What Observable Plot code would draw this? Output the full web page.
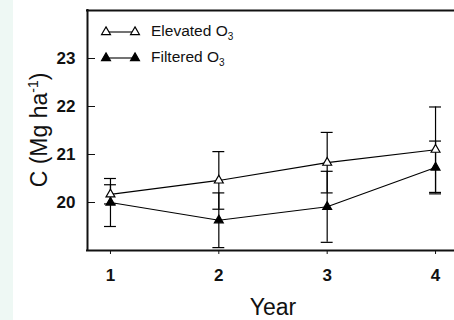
<!DOCTYPE html>
<html><head><meta charset="utf-8">
<script src="https://cdn.jsdelivr.net/npm/d3@7"></script>
<script src="https://cdn.jsdelivr.net/npm/@observablehq/plot@0.6"></script>
<style>
html,body{margin:0;padding:0;}
body{width:454px;height:320px;overflow:hidden;background:linear-gradient(to right,#eef8f4 0,#eef8f4 13px,#fff 13px);font-family:"Liberation Sans",Arial,sans-serif;}
#chart svg{background:transparent !important;display:block;}
</style></head><body><div id="chart"></div>
<script>
const years = [1, 2, 3, 4];
const elevated = [20.17, 20.46, 20.83, 21.10];
const elevatedErr = [0.20, 0.60, 0.63, 0.89];
const filtered = [20.00, 19.63, 19.91, 20.73];
const filteredErr = [0.50, 0.57, 0.74, 0.55];
const yTicks = [20, 21, 22, 23];
const seriesNames = ["Elevated O", "Filtered O"];

const xDomain = [0.788, 4.175];
const yDomain = [19, 24];

const elevRows = years.map((y, i) => ({year: y, c: elevated[i], err: elevatedErr[i]}));
const filtRows = years.map((y, i) => ({year: y, c: filtered[i], err: filteredErr[i]}));
const allRows = [...filtRows, ...elevRows];
const capHalf = 0.055;

const plot = Plot.plot({
  width: 454, height: 320,
  marginLeft: 87, marginRight: 0, marginTop: 10, marginBottom: 70,
  style: {fontFamily: "Liberation Sans, Arial, sans-serif", background: "transparent", color: "#111"},
  x: {domain: xDomain},
  y: {domain: yDomain},
  marks: [
    Plot.axisX({ticks: years, tickSize: 4, tickPadding: 14, fontSize: 17, fontWeight: "bold", label: null, tickFormat: d3.format("d")}),
    Plot.axisY({ticks: yTicks, tickSize: 0, tickPadding: 12, fontSize: 17, fontWeight: "bold", label: null, tickFormat: d3.format("d")}),
    Plot.axisY({ticks: yTicks, tickSize: 8, dx: 8, tickFormat: () => "", label: null}),
    Plot.ruleX(allRows, {x: "year", y1: d => d.c - d.err, y2: d => d.c + d.err, stroke: "black", strokeWidth: 1.2}),
    Plot.ruleY(allRows, {y: d => d.c + d.err, x1: d => d.year - capHalf, x2: d => d.year + capHalf, stroke: "black", strokeWidth: 1.2}),
    Plot.ruleY(allRows, {y: d => d.c - d.err, x1: d => d.year - capHalf, x2: d => d.year + capHalf, stroke: "black", strokeWidth: 1.2}),
    Plot.line(filtRows, {x: "year", y: "c", stroke: "black", strokeWidth: 1.1}),
    Plot.line(elevRows, {x: "year", y: "c", stroke: "black", strokeWidth: 1.1}),
    Plot.dot(filtRows, {x: "year", y: "c", symbol: "triangle", r: 3.3, fill: "black", stroke: "black", strokeWidth: 1.2}),
    Plot.dot(elevRows, {x: "year", y: "c", symbol: "triangle", r: 3.3, fill: "white", stroke: "black", strokeWidth: 1.2}),
    Plot.ruleY([yDomain[0], yDomain[1]], {stroke: "#111", strokeWidth: 2, strokeLinecap: "square"}),
    Plot.ruleX([xDomain[0]], {stroke: "#111", strokeWidth: 2, strokeLinecap: "square"})
  ]
});

const svg = d3.select(plot);
// y label
const yl = svg.append("text")
  .attr("transform", "translate(47,130) rotate(-90)")
  .attr("text-anchor", "middle")
  .style("font-size", "23px")
  .attr("fill", "#111")
  .attr("font-family", "Liberation Sans, Arial, sans-serif");
yl.append("tspan").text("C (Mg ha");
yl.append("tspan").style("font-size", "14px").attr("dy", -9).text("-1");
yl.append("tspan").attr("dy", 9).text(")");
// x label
svg.append("text")
  .attr("x", 273).attr("y", 315)
  .attr("text-anchor", "middle")
  .style("font-size", "23px")
  .attr("fill", "#111")
  .attr("font-family", "Liberation Sans, Arial, sans-serif")
  .text("Year");
// legend
const legendRows = [
  {name: seriesNames[0], fill: "white", y: 32},
  {name: seriesNames[1], fill: "black", y: 58}
];
const tri = d3.symbol(d3.symbolTriangle, 3.3 * 3.3 * Math.PI)();
const lg = svg.append("g").attr("text-anchor", "start");
legendRows.forEach(r => {
  lg.append("line").attr("x1", 106).attr("x2", 135).attr("y1", r.y).attr("y2", r.y).attr("stroke", "black").attr("stroke-width", 1.1);
  [106, 135].forEach(x => lg.append("path").attr("d", tri).attr("transform", `translate(${x},${r.y})`).attr("fill", r.fill).attr("stroke", "black").attr("stroke-width", 1.2));
  const t = lg.append("text").attr("x", 151).attr("y", r.y + 3.5).style("font-size", "15.5px").attr("fill", "#111")
    .attr("text-anchor", "start")
    .attr("font-family", "Liberation Sans, Arial, sans-serif");
  t.append("tspan").text(r.name);
  t.append("tspan").style("font-size", "10px").attr("dy", 4).text("3");
});

document.getElementById("chart").appendChild(plot);
</script>
</body></html>
